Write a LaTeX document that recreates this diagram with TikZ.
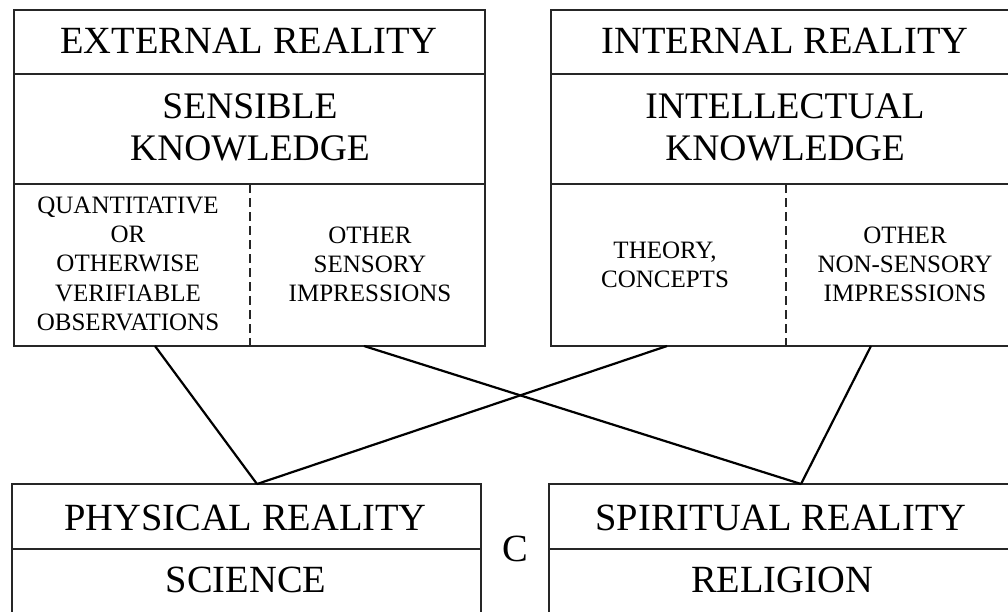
\documentclass[tikz,border=0pt]{standalone}
\usepackage{fontspec}
\setmainfont{Liberation Serif}
\newcommand{\bigf}{\fontsize{38.5}{42}\selectfont}
\newcommand{\midf}{\fontsize{37.5}{42}\selectfont}
\newcommand{\smallf}{\fontsize{25}{29.4}\selectfont}
\newcommand{\lines}[1]{\begin{tabular}[t]{@{}c@{}}#1\end{tabular}}
\begin{document}
\begin{tikzpicture}[x=1pt,y=-1pt,
  boxline/.style={line width=1.4pt,black!85},
  divline/.style={line width=1.3pt,black!85,dash pattern=on 9pt off 5pt},
  conn/.style={line width=2.2pt,black},
  lbl/.style={inner sep=0pt,anchor=base,text=black}]
\useasboundingbox (0,0) rectangle (1008,611);
\clip (0,0) rectangle (1008,611);
% top-left box
\draw[boxline] (14,10) rectangle (485,346);
\draw[boxline] (14,74) -- (485,74);
\draw[boxline] (14,184) -- (485,184);
\draw[divline] (250,184) -- (250,346);
% top-right box
\draw[boxline] (551,10) rectangle (1020,346);
\draw[boxline] (551,74) -- (1020,74);
\draw[boxline] (551,184) -- (1020,184);
\draw[divline] (786,184) -- (786,346);
% bottom boxes
\draw[boxline] (12,484) rectangle (481,650);
\draw[boxline] (12,549) -- (481,549);
\draw[boxline] (549,484) rectangle (1018,650);
\draw[boxline] (549,549) -- (1018,549);
% texts
\node[lbl,font=\bigf] (ext) at (249,53) {EXTERNAL REALITY};
\node[lbl,font=\bigf] (int) at (785,53) {INTERNAL REALITY};
\node[lbl,font=\midf] (sens) at (250,118) {\lines{SENSIBLE\\KNOWLEDGE}};
\node[lbl,font=\midf] (intel) at (785,118) {\lines{INTELLECTUAL\\KNOWLEDGE}};
\node[lbl,font=\smallf] (quant) at (128,213) {\lines{QUANTITATIVE\\OR\\OTHERWISE\\VERIFIABLE\\OBSERVATIONS}};
\node[lbl,font=\smallf] (osens) at (370,243) {\lines{OTHER\\SENSORY\\IMPRESSIONS}};
\node[lbl,font=\smallf] (theory) at (665,258) {\lines{THEORY,\\CONCEPTS}};
\node[lbl,font=\smallf] (onon) at (905,243) {\lines{OTHER\\NON-SENSORY\\IMPRESSIONS}};
\node[lbl,font=\bigf] (phys) at (245.5,530) {PHYSICAL REALITY};
\node[lbl,font=\bigf] (sci) at (246,592) {SCIENCE};
\node[lbl,font=\bigf] (spir) at (781,530) {SPIRITUAL REALITY};
\node[lbl,font=\bigf] (rel) at (782,592) {RELIGION};
\node[lbl,font=\bigf] (c) at (515,561) {C};
% connector ends
\coordinate (qa) at (155,346);
\coordinate (sa) at (364,346);
\coordinate (ta) at (667,346);
\coordinate (na) at (871,346);
\coordinate (jl) at (257,484);
\coordinate (jr) at (801,484);
\draw[conn] (qa) -- (jl);
\draw[conn] (ta) -- (jl);
\draw[conn] (sa) -- (jr);
\draw[conn] (na) -- (jr);
\end{tikzpicture}
\end{document}
